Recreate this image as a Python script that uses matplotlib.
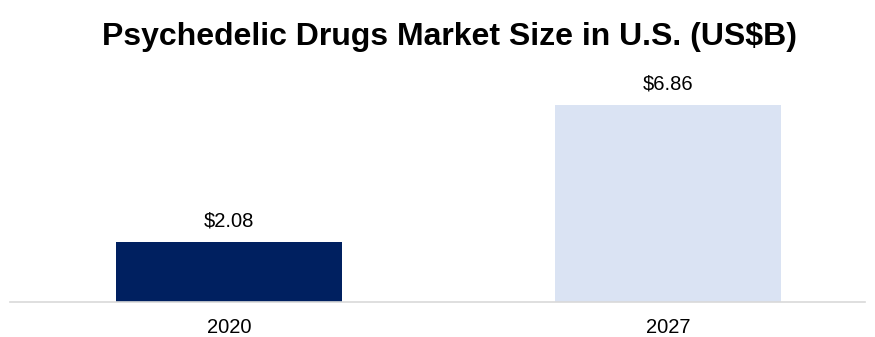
import matplotlib
matplotlib.use("Agg")
import matplotlib.pyplot as plt

years = ["2020", "2027"]
values = [2.08, 6.86]
labels = ["$2.08", "$6.86"]
colors = ["#002060", "#dae3f3"]

plt.rcParams['font.family'] = ['Liberation Sans', 'DejaVu Sans']

fig = plt.figure(figsize=(8.75, 3.37), dpi=100)
ax = fig.add_axes([10 / 875, 35 / 337, 855 / 875, 242 / 337])

x = range(len(years))
bars = ax.bar(x, values, width=0.515, color=colors)
for bar, lab in zip(bars, labels):
    ax.annotate(lab, (bar.get_x() + bar.get_width() / 2, bar.get_height()),
                xytext=(0, 11), textcoords='offset points',
                ha='center', va='baseline', fontsize=14.5, color='#000000')

ax.set_xlim(-0.499, 1.449)
ax.set_ylim(0, 8.41)
ax.set_xticks(list(x))
ax.set_xticklabels(years, fontsize=14.5)
ax.tick_params(axis='x', length=0, pad=11.5)
ax.set_yticks([])
for s in ['top', 'right', 'left']:
    ax.spines[s].set_visible(False)
ax.spines['bottom'].set_color('#d9d9d9')
ax.spines['bottom'].set_linewidth(1.2)

fig.text(0.514, 0.8665, "Psychedelic Drugs Market Size in U.S. (US$B)",
         ha='center', va='baseline', fontsize=23, fontweight='bold')

fig.savefig("out.png", dpi=100)
